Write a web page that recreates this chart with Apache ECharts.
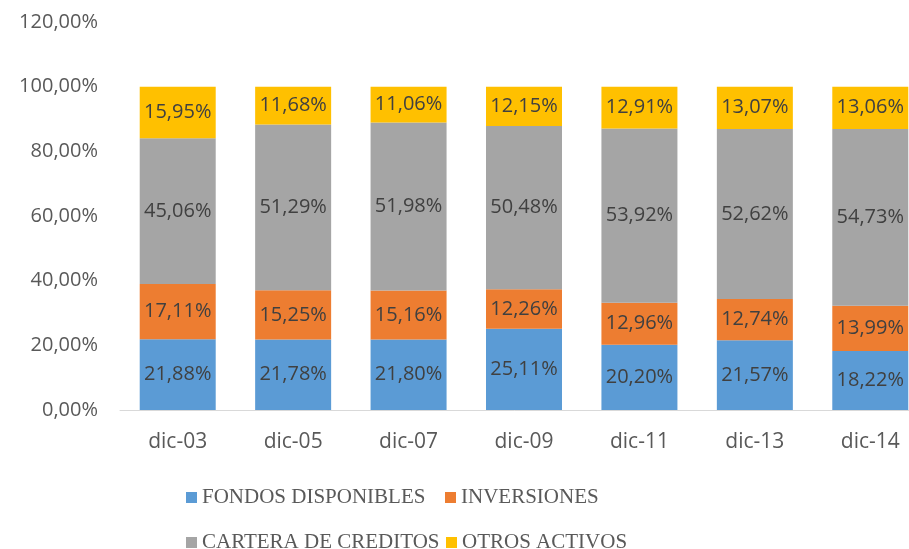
<!DOCTYPE html>
<html>
<head>
<meta charset="utf-8">
<script src="https://cdn.jsdelivr.net/npm/echarts@6/dist/echarts.min.js"></script>
<style>
  html, body { margin: 0; padding: 0; background: #fff; }
  #chart { width: 909px; height: 549px; }
</style>
</head>
<body>
<div id="chart"></div>
<script>
  var categories = ['dic-03', 'dic-05', 'dic-07', 'dic-09', 'dic-11', 'dic-13', 'dic-14'];
  var fondos = [21.88, 21.78, 21.80, 25.11, 20.20, 21.57, 18.22];
  var inversiones = [17.11, 15.25, 15.16, 12.26, 12.96, 12.74, 13.99];
  var cartera = [45.06, 51.29, 51.98, 50.48, 53.92, 52.62, 54.73];
  var otros = [15.95, 11.68, 11.06, 12.15, 12.91, 13.07, 13.06];

  function pct(v) {
    return v.toFixed(2).replace('.', ',') + '%';
  }

  var chart = echarts.init(document.getElementById('chart'));

  var labelStyle = {
    show: true,
    position: 'inside',
    color: '#404040',
    fontSize: 20,
    fontFamily: 'Open Sans',
    formatter: function (p) { return pct(p.value); }
  };

  function bar(name, data, color) {
    return {
      name: name,
      type: 'bar',
      stack: 'total',
      barWidth: 76,
      data: data,
      itemStyle: { color: color },
      label: labelStyle
    };
  }

  var legendText = { color: '#595959', fontSize: 21, fontFamily: 'Liberation Serif' };

  // one legend per item so each sits where the original put it
  function legendItem(name, left, top) {
    return {
      data: [name],
      left: left, top: top,
      icon: 'rect', itemWidth: 11, itemHeight: 11,
      textStyle: legendText
    };
  }

  chart.setOption({
    animation: false,
    // the original picture is cropped on the right, so the plot runs past the edge
    grid: { left: 120, right: -19, top: 22, bottom: 139, outerBoundsMode: 'none' },
    legend: [
      legendItem('FONDOS DISPONIBLES', 181, 482),
      legendItem('INVERSIONES', 440, 482),
      legendItem('CARTERA DE CREDITOS', 181, 527),
      legendItem('OTROS ACTIVOS', 441, 527)
    ],
    xAxis: {
      type: 'category',
      data: categories,
      axisLine: { lineStyle: { color: '#d9d9d9' } },
      axisTick: { show: false },
      axisLabel: { color: '#595959', fontSize: 21, fontFamily: 'Open Sans', margin: 22 }
    },
    yAxis: {
      type: 'value',
      min: 0, max: 120, interval: 20,
      splitLine: { show: false },
      axisLine: { show: false },
      axisLabel: {
        color: '#595959', fontSize: 20, fontFamily: 'Open Sans', margin: 22,
        formatter: function (v) { return pct(v); }
      }
    },
    series: [
      bar('FONDOS DISPONIBLES', fondos, '#5b9bd5'),
      bar('INVERSIONES', inversiones, '#ed7d31'),
      bar('CARTERA DE CREDITOS', cartera, '#a5a5a5'),
      bar('OTROS ACTIVOS', otros, '#ffc000')
    ]
  });
</script>
</body>
</html>
